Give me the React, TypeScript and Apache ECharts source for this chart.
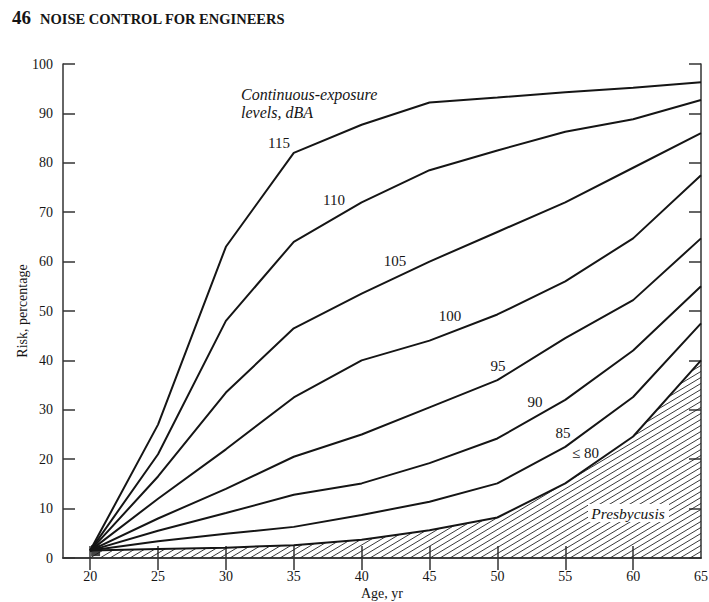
import React, { useEffect, useRef } from "react";
import * as echarts from "echarts";

const ages = [20, 25, 30, 35, 40, 45, 50, 55, 60, 65];
const risk115 = [1.5, 27, 63, 82, 87.7, 92.2, 93.2, 94.3, 95.2, 96.3];
const risk110 = [1.5, 21, 48, 64, 72, 78.5, 82.5, 86.3, 88.8, 92.7];
const risk105 = [1.5, 16.5, 33.5, 46.5, 53.5, 60, 66, 72, 79, 86];
const risk100 = [1.5, 12, 22, 32.5, 40, 44, 49.3, 56, 64.7, 77.5];
const risk95 = [1.5, 8, 14, 20.5, 25, 30.5, 36, 44.5, 52.2, 64.7];
const risk90 = [1.5, 5.5, 9.1, 12.8, 15.1, 19.2, 24.2, 32, 42, 55];
const risk85 = [1.5, 3.4, 4.9, 6.3, 8.7, 11.4, 15.1, 22.5, 32.6, 47.5];
const risk80 = [1.5, 1.8, 2.1, 2.6, 3.7, 5.6, 8.2, 15.1, 24.6, 40];
const originBlob = [[20.4, 1.5]];

const xLabelValues = [20, 25, 30, 35, 40, 45, 50, 55, 60, 65];
const xTickValues = [20, 25, 30, 35, 40, 45, 50, 55, 60];

const SERIF = "'Liberation Serif', 'DejaVu Serif', serif";
const INK = "#151515";

function makeHatch(): HTMLCanvasElement {
  const c = document.createElement("canvas");
  const w = 10;
  const h = 6;
  c.width = w;
  c.height = h;
  const ctx = c.getContext("2d")!;
  ctx.strokeStyle = "#222";
  ctx.lineWidth = 0.9;
  ctx.beginPath();
  ctx.moveTo(0, h);
  ctx.lineTo(w, 0);
  ctx.moveTo(-w, h);
  ctx.lineTo(w, -h);
  ctx.moveTo(0, 2 * h);
  ctx.lineTo(2 * w, 0);
  ctx.stroke();
  return c;
}

const toPts = (vals: number[]) => ages.map((a, i) => [a, vals[i]]);

export default function App() {
  const ref = useRef<HTMLDivElement>(null);
  useEffect(() => {
    if (!ref.current) return;
    const chart = echarts.init(ref.current, undefined, { renderer: "svg" });
    const axisLine = { show: true, lineStyle: { color: "#333", width: 1.5 } };
    const tickStyle = { color: "#333", width: 1.5 };
    const lineSeries = (name: string, vals: number[], extra: any = {}) => ({
      type: "line",
      name,
      data: toPts(vals),
      symbol: "none",
      lineStyle: { color: INK, width: 2 },
      z: 3,
      ...extra,
    });
    const txt = (text: string, x: number, y: number, opts: any = {}) => ({
      type: "text",
      x,
      y,
      z: 10,
      style: {
        text,
        fill: INK,
        font: opts.font || `15px ${SERIF}`,
        align: opts.align || "center",
        verticalAlign: "middle",
      },
    });
    chart.setOption({
      animation: false,
      backgroundColor: "#fff",
      grid: {
        left: 63,
        right: 8,
        top: 64,
        bottom: 44,
        containLabel: false,
        outerBoundsMode: "none",
      },
      xAxis: [
        {
          type: "value",
          position: "bottom",
          min: 18,
          max: 65,
          axisLine,
          axisTick: { show: true, inside: true, length: 12, customValues: xTickValues, lineStyle: tickStyle },
          axisLabel: {
            customValues: xLabelValues,
            margin: 11,
            fontSize: 14,
            fontFamily: SERIF,
            color: INK,
          },
          splitLine: { show: false },
          name: "Age, yr",
          nameLocation: "middle",
          nameGap: 28,
          nameMoveOverlap: false,
          nameTextStyle: { fontSize: 14, fontFamily: SERIF, color: INK },
        },
        {
          type: "value",
          position: "top",
          min: 18,
          max: 65,
          axisLine,
          axisTick: { show: true, inside: true, length: 12, customValues: xTickValues, lineStyle: tickStyle },
          axisLabel: { show: false },
          splitLine: { show: false },
        },
      ],
      yAxis: [
        {
          type: "value",
          position: "left",
          min: 0,
          max: 100,
          interval: 10,
          axisLine,
          axisTick: { show: true, inside: true, length: 12, lineStyle: tickStyle },
          axisLabel: { margin: 10, fontSize: 14, fontFamily: SERIF, color: INK },
          splitLine: { show: false },
          name: "Risk, percentage",
          nameLocation: "middle",
          nameGap: 34,
          nameRotate: 90,
          nameMoveOverlap: false,
          nameTextStyle: { fontSize: 14, fontFamily: SERIF, color: INK },
        },
        {
          type: "value",
          position: "right",
          min: 0,
          max: 100,
          interval: 10,
          axisLine,
          axisTick: { show: true, inside: true, length: 12, lineStyle: tickStyle },
          axisLabel: { show: false },
          splitLine: { show: false },
        },
      ],
      series: [
        lineSeries("≤80", risk80, {
          areaStyle: { color: { image: makeHatch(), repeat: "repeat" }, opacity: 1 },
          z: 2,
        }),
        lineSeries("85", risk85),
        lineSeries("90", risk90),
        lineSeries("95", risk95),
        lineSeries("100", risk100),
        lineSeries("105", risk105),
        lineSeries("110", risk110),
        lineSeries("115", risk115),
        {
          type: "scatter",
          data: originBlob,
          symbol: "rect",
          symbolSize: [9, 11],
          itemStyle: { color: INK },
          z: 4,
        },
      ],
      graphic: [
        txt("46", 12, 17, { font: `bold 19px ${SERIF}`, align: "left" }),
        txt("NOISE CONTROL FOR ENGINEERS", 40, 19, { font: `bold 14.5px ${SERIF}`, align: "left" }),
        txt("Continuous-exposure", 241, 94, { font: `italic 16px ${SERIF}`, align: "left" }),
        txt("levels, dBA", 241, 112, { font: `italic 16px ${SERIF}`, align: "left" }),
        txt("115", 279, 143),
        txt("110", 334, 200),
        txt("105", 395, 261),
        txt("100", 450, 316),
        txt("95", 498, 366),
        txt("90", 535, 402),
        txt("85", 563, 433),
        txt("≤ 80", 572, 453, { align: "left" }),
        {
          type: "rect",
          shape: { x: 588, y: 504, width: 81, height: 18 },
          style: { fill: "#fff" },
          z: 9,
        },
        txt("Presbycusis", 628, 513, { font: `italic 15.5px ${SERIF}` }),
      ],
    });
    return () => chart.dispose();
  }, []);
  return (
    <div
      ref={ref}
      style={{ position: "absolute", left: 0, top: 0, width: 709, height: 602, background: "#fff" }}
    />
  );
}
